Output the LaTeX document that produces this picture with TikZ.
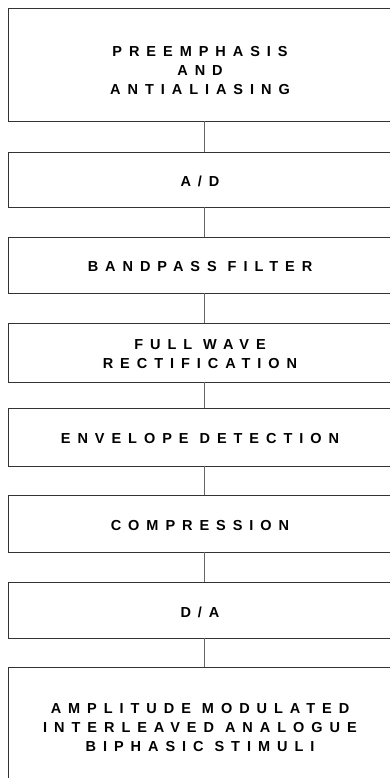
\documentclass[tikz,border=0pt]{standalone}
\usepackage{fontspec}
\setmainfont{Liberation Sans}
\newfontfamily\spaced[LetterSpace=48]{Liberation Sans}
\begin{document}
\begin{tikzpicture}[x=1pt,y=-1pt]
	\tikzstyle{every node}+=[inner sep=0pt]
	\tikzstyle{every label}=[xshift=-4pt,yshift=-2pt,align=center,font=\spaced\bfseries\fontsize{14.5}{19}\selectfont]
	\tikzstyle{block}=[draw=black!80,line width=0.8pt,minimum width=392pt]
	\tikzstyle{link}=[draw=black!60,line width=0.8pt]
	\useasboundingbox[clip] (0,0) rectangle (390,778);
	% processing chain, top to bottom
	\node[block,minimum height=113pt,label={[yshift=-4pt]center:PREEMPHASIS\\AND\\ANTIALIASING}] (pre) at (204,64.5) {};
	\node[block,minimum height=55pt,label={center:A/D}] (ad) at (204,179.5) {};
	\node[block,minimum height=56pt,label={center:BANDPASS FILTER}] (bp) at (204,265) {};
	\node[block,minimum height=59pt,label={center:FULL WAVE\\RECTIFICATION}] (fw) at (204,352.5) {};
	\node[block,minimum height=58pt,label={center:ENVELOPE DETECTION}] (env) at (204,437) {};
	\node[block,minimum height=57pt,label={center:COMPRESSION}] (comp) at (204,523.5) {};
	\node[block,minimum height=56pt,label={center:D/A}] (da) at (204,610) {};
	\node[block,minimum height=116pt,label={center:AMPLITUDE MODULATED\\INTERLEAVED ANALOGUE\\BIPHASIC STIMULI}] (out) at (204,725) {};
	\draw[link] (pre) -- (ad);
	\draw[link] (ad) -- (bp);
	\draw[link] (bp) -- (fw);
	\draw[link] (fw) -- (env);
	\draw[link] (env) -- (comp);
	\draw[link] (comp) -- (da);
	\draw[link] (da) -- (out);
\end{tikzpicture}
\end{document}
